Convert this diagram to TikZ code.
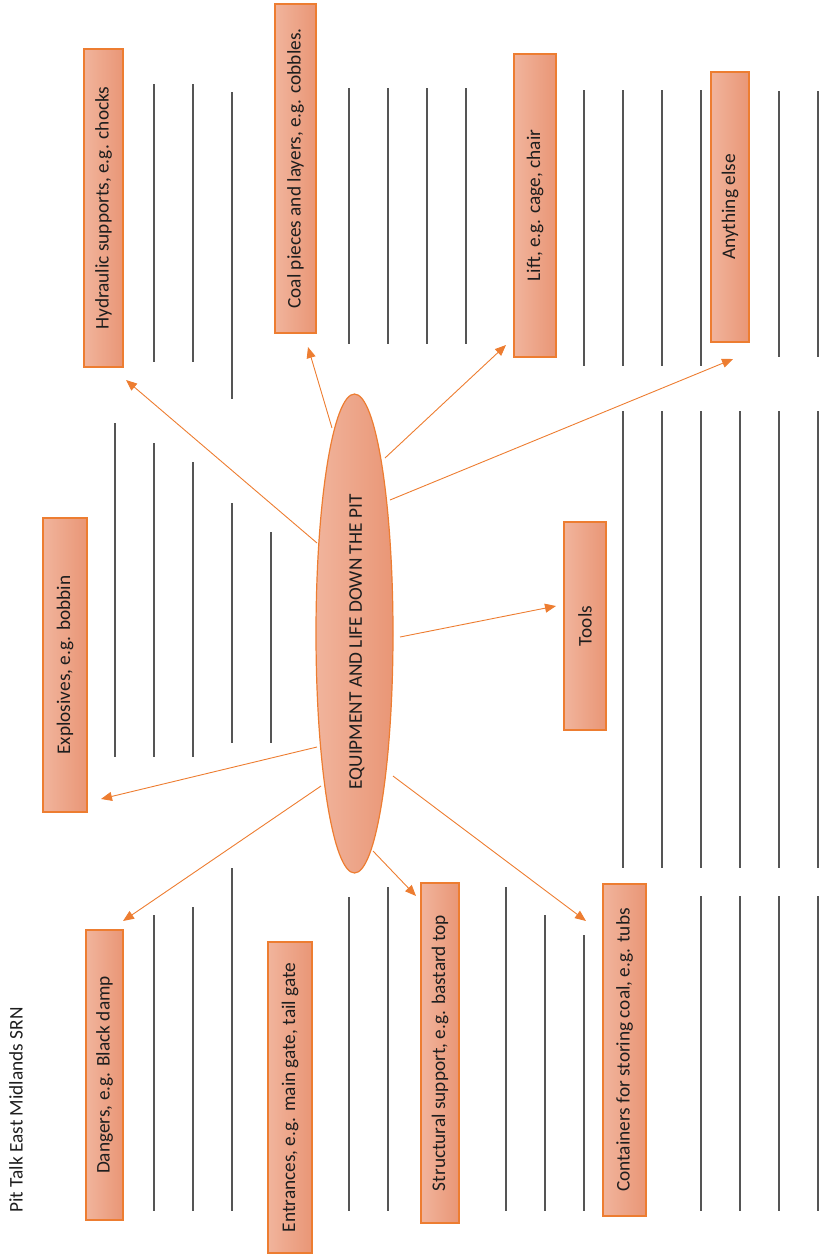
\documentclass[tikz,border=0pt]{standalone}
\usepackage{fontspec}
\setmainfont{Carlito}
\usetikzlibrary{shapes.geometric,arrows.meta}

\definecolor{accent}{RGB}{237,125,49}
\definecolor{shadelight}{RGB}{241,180,156}
\definecolor{shadedark}{RGB}{233,150,118}
\definecolor{rulegray}{RGB}{85,85,85}
\definecolor{ink}{RGB}{30,30,30}

\begin{document}
\begin{tikzpicture}[x=1pt,y=-1pt,
  topic/.style={draw=accent, line width=1.2pt, rotate=90, inner sep=0pt,
    left color=shadelight, right color=shadedark, text=ink,
    font=\fontsize{19.3}{23}\selectfont},
  hub/.style={ellipse, draw=accent, line width=1.2pt, rotate=90, inner sep=0pt,
    left color=shadelight, right color=shadedark},
  caption/.style={rotate=90, inner sep=0pt, text=ink, font=\fontsize{19.3}{23}\selectfont},
  link/.style={draw=accent, line width=0.9pt, -{Triangle[length=11pt,width=9pt]}},
  writeline/.style={draw=rulegray, line width=1.2pt}]

\useasboundingbox (0,0) rectangle (819,1254);

% writing lines
\foreach \lx/\ly/\lz in {
  154/84/362, 193/84/362, 232/92/399,
  115/423/757, 154/443/757, 193/462/757, 232/503/743, 271/532/743,
  154/915/1211, 193/907/1211, 232/868/1211,
  349/88/344, 388/88/344, 427/88/344, 466/88/344,
  349/897/1211, 388/887/1211, 506/887/1211, 545/915/1211, 584/935/1211,
  584/90/366, 623/90/366, 662/90/366, 701/90/366, 779/91/357, 818/91/357,
  623/411/868, 662/411/868, 701/411/868, 740/411/868, 779/411/868, 818/411/868,
  701/896/1211, 740/896/1211, 779/896/1211, 818/896/1211}
  \draw[writeline] (\lx,\ly) -- (\lx,\lz);

% title
\node[caption] (title) at (16,1110) {Pit Talk East Midlands SRN};

% central topic
\node[hub, minimum width=479pt, minimum height=77pt] (hub) at (354.5,633.5) {};
\node[caption] (hubtext) at (357,642) {EQUIPMENT AND LIFE DOWN THE PIT};

% topic boxes
\node[topic, minimum width=318pt, minimum height=39pt] (hydraulic) at (103.5,208) {Hydraulic supports, e.g. chocks};
\node[topic, minimum width=329pt, minimum height=41pt] (coal) at (295.5,168.5) {Coal pieces and layers, e.g. cobbles.};
\node[topic, minimum width=303pt, minimum height=42pt] (lift) at (535,205.5) {Lift, e.g. cage, chair};
\node[topic, minimum width=270pt, minimum height=38pt] (else) at (730,207) {Anything else};
\node[topic, minimum width=294pt, minimum height=44pt] (explosives) at (65,665) {Explosives, e.g. bobbin};
\node[topic, minimum width=208pt, minimum height=42pt] (tools) at (585,626) {Tools};
\node[topic, minimum width=290pt, minimum height=37pt] (dangers) at (104.5,1075) {Dangers, e.g. Black damp};
\node[topic, minimum width=311pt, minimum height=44pt] (entrances) at (290,1097.5) {Entrances, e.g. main gate, tail gate};
\node[topic, minimum width=340pt, minimum height=38pt] (structural) at (440,1053) {Structural support, e.g. bastard top};
\node[topic, minimum width=332pt, minimum height=43pt] (containers) at (624.5,1050) {Containers for storing coal, e.g. tubs};

% arrow ends
\coordinate (s1) at (317,543);  \coordinate (t1) at (126,380);
\coordinate (s2) at (332,428);  \coordinate (t2) at (308,347);
\coordinate (s3) at (385,458);  \coordinate (t3) at (506,345);
\coordinate (s4) at (390,500);  \coordinate (t4) at (733,359);
\coordinate (s5) at (400,637);  \coordinate (t5) at (556,606);
\coordinate (s6) at (317,747);  \coordinate (t6) at (101,799);
\coordinate (s7) at (321,786);  \coordinate (t7) at (123,921);
\coordinate (s8) at (373,851);  \coordinate (t8) at (416,896);
\coordinate (s9) at (393,776);  \coordinate (t9) at (586,921);

\foreach \k in {1,...,9}
  \draw[link] (s\k) -- (t\k);

\end{tikzpicture}
\end{document}
